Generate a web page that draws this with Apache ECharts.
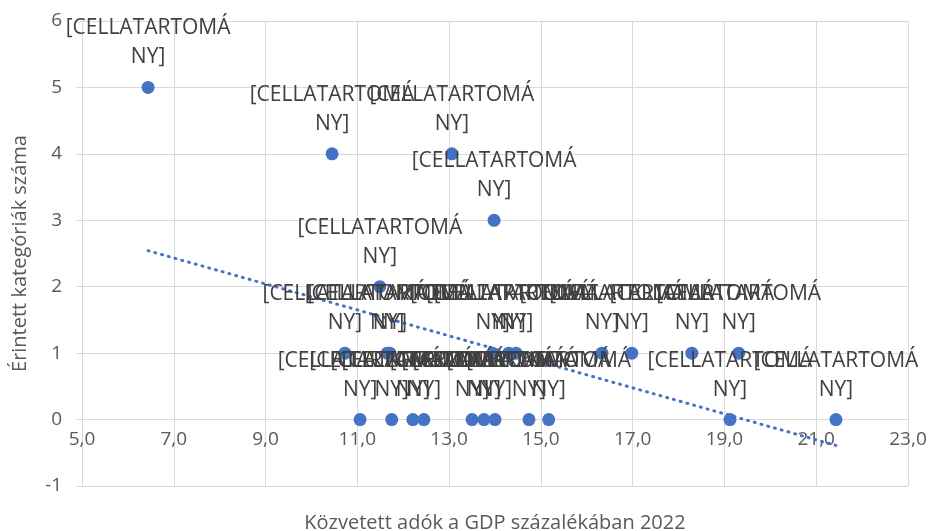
<!DOCTYPE html>
<html>
<head>
<meta charset="utf-8">
<script src="https://cdn.jsdelivr.net/npm/echarts@6/dist/echarts.min.js"></script>
<style>
  html, body { margin: 0; padding: 0; background: #fff; }
  #chart { width: 929px; height: 531px; }
</style>
</head>
<body>
<div id="chart"></div>
<script>
// x: közvetett adók a GDP %-ában, y: érintett kategóriák száma
var xValues = [6.44, 10.45, 13.06, 13.98, 11.49,
  10.73, 11.65, 11.71, 13.95, 14.30, 14.46, 16.33, 16.98, 18.29, 19.31,
  11.06, 11.75, 12.21, 12.45, 13.50, 13.76, 14.00, 14.74, 15.17, 19.12, 21.43];
var yValues = [5, 4, 4, 3, 2,
  1, 1, 1, 1, 1, 1, 1, 1, 1, 1,
  0, 0, 0, 0, 0, 0, 0, 0, 0, 0, 0];
var pointLabel = "[CELLATARTOMÁ\nNY]";
var xTitle = "Közvetett adók a GDP százalékában 2022";
var yTitle = "Érintett kategóriák száma";

var points = [];
for (var i = 0; i < xValues.length; i++) {
  points.push([xValues[i], yValues[i]]);
}

// lineáris trendvonal (legkisebb négyzetek)
var n = xValues.length, sx = 0, sy = 0, sxy = 0, sxx = 0;
for (var i = 0; i < n; i++) {
  sx += xValues[i]; sy += yValues[i];
  sxy += xValues[i] * yValues[i]; sxx += xValues[i] * xValues[i];
}
var slope = (n * sxy - sx * sy) / (n * sxx - sx * sx);
var icpt = (sy - slope * sx) / n;
var xMin = Math.min.apply(null, xValues), xMax = Math.max.apply(null, xValues);
var trend = [[xMin, icpt + slope * xMin], [xMax, icpt + slope * xMax]];

var font = "'Open Sans', sans-serif";
var gridTop = 21, gridBottom = 45, yMin = -1, yMax = 6;
// a vízszintes tengely a 0-nál metszi a függőlegest
var zeroOffset = -(531 - gridTop - gridBottom) * (0 - yMin) / (yMax - yMin);

var myChart = echarts.init(document.getElementById("chart"));
var option = {
  animation: false,
  grid: { left: 82, right: 21, top: gridTop, bottom: gridBottom, outerBoundsMode: "none", containLabel: false },
  xAxis: {
    type: "value",
    min: 5, max: 23, interval: 2,
    offset: zeroOffset,
    name: xTitle,
    nameLocation: "middle",
    nameGap: 94,
    nameTextStyle: { color: "#595959", fontSize: 20, fontFamily: font },
    axisLine: { show: true, onZero: false, lineStyle: { color: "#d9d9d9" } },
    axisTick: { show: true, length: 6, lineStyle: { color: "#d9d9d9" } },
    axisLabel: {
      color: "#595959", fontSize: 19, fontFamily: font, margin: 11,
      formatter: function (v) { return v.toFixed(1).replace(".", ","); }
    },
    splitLine: { show: true, lineStyle: { color: "#d9d9d9" } }
  },
  yAxis: {
    type: "value",
    min: yMin, max: yMax, interval: 1,
    name: yTitle,
    nameLocation: "middle",
    nameGap: 52,
    nameTextStyle: { color: "#595959", fontSize: 20, fontFamily: font },
    axisLine: { show: true, onZero: false, lineStyle: { color: "#d9d9d9" } },
    axisTick: { show: true, length: 6, lineStyle: { color: "#d9d9d9" } },
    axisLabel: { color: "#595959", fontSize: 19, fontFamily: font, margin: 20 },
    splitLine: { show: true, lineStyle: { color: "#d9d9d9" } }
  },
  series: [
    {
      type: "line",
      data: trend,
      showSymbol: false,
      silent: true,
      lineStyle: { color: "#4472C4", width: 3, type: [1, 6], cap: "round" },
      z: 1
    },
    {
      type: "scatter",
      data: points,
      symbolSize: 13,
      itemStyle: { color: "#4472C4", opacity: 1 },
      label: {
        show: true,
        position: "top",
        distance: 9,
        formatter: pointLabel,
        color: "#404040",
        fontSize: 21,
        lineHeight: 29,
        fontFamily: font
      },
      labelLayout: { hideOverlap: false },
      z: 2
    }
  ]
};
myChart.setOption(option);
</script>
</body>
</html>
